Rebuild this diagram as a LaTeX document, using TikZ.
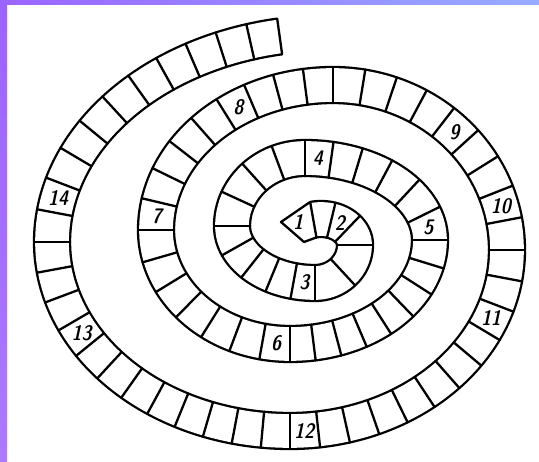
\documentclass[tikz,border=0pt]{standalone}
\definecolor{framepurple}{RGB}{155,100,255}
\definecolor{framelilac}{RGB}{172,122,255}
\definecolor{frameblue}{RGB}{150,172,255}
\tikzset{
  board/.style={line width=2.3pt, double=white, double distance=33.7pt},
  wall/.style={line width=2.3pt, line join=round, line cap=round},
  cellnum/.style={font=\fontsize{21}{23}\fontseries{sbc}\fontshape{sl}\sffamily, inner sep=0pt},
}
% quarter turns: number/centre x/centre y/radius x/radius y/from/to/cells
\def\quarters{1/321/245/34/26/255/360/3, 2/315/245/40/38/0/90/2,
  3/315/226/83/57/90/180/5, 4/305/226/73/68/180/270/4,
  5/305/240/125/82/270/360/6, 6/290/240/140/104/0/90/8,
  7/290/230/134/114/90/180/7, 8/333/230/177/145/180/270/9,
  9/333/250/174/165/270/360/9, 10/290/250/217/181/0/90/11,
  11/290/242/238/189/90/180/12, 12/330/242/278/209/180/257.9/11}
\begin{document}
\begin{tikzpicture}[x=1pt,y=-1pt]
\useasboundingbox (0,0) rectangle (539,462);
\fill[white] (0,0) rectangle (539,462);
% frame
\shade[top color=framepurple, bottom color=framelilac] (0,0) rectangle (7,462);
\shade[left color=framepurple, right color=frameblue] (0,0) rectangle (539,5);
% track
\foreach \q/\cx/\cy/\rx/\ry/\sa/\sb/\n in \quarters {
  \pgfmathsetmacro\qk{28.65*(\rx-\ry)/(\rx+\ry)}
  \draw[board] plot[domain=\sa:\sb, samples=40, smooth, variable=\s]
    ({\cx+\rx*cos(\s+\qk*sin(2*\s))}, {\cy+\ry*sin(\s+\qk*sin(2*\s))});
}
% cell walls
\foreach \q/\cx/\cy/\rx/\ry/\sa/\sb/\n in \quarters {
  \pgfmathsetmacro\qk{28.65*(\rx-\ry)/(\rx+\ry)}
  \foreach \j in {0,...,\n} {
    \pgfmathsetmacro\qs{\sa+(\sb-\sa)*\j/\n}
    \pgfmathsetmacro\qp{\qs+\qk*sin(2*\qs)}
    \pgfmathsetmacro\qa{atan2(\rx*sin(\qp),\ry*cos(\qp))}
    \draw[wall] ({\cx+\rx*cos(\qp)+18*cos(\qa)}, {\cy+\ry*sin(\qp)+18*sin(\qa)})
      -- ({\cx+\rx*cos(\qp)-18*cos(\qa)}, {\cy+\ry*sin(\qp)-18*sin(\qa)});
  }
  \foreach \j in {1,...,\n} {
    \pgfmathsetmacro\qs{\sa+(\sb-\sa)*(\j-0.5)/\n}
    \pgfmathsetmacro\qp{\qs+\qk*sin(2*\qs)}
    \coordinate (cell\q-\j) at ({\cx+\rx*cos(\qp)}, {\cy+\ry*sin(\qp)});
  }
}
% first cell
\coordinate (tip) at (281,222);
\coordinate (startout) at (310.1,202);
\coordinate (startin) at (316.5,237.4);
\draw[wall] (startout) -- (tip) -- (304,242) -- (startin);
% numbers
\node[cellnum] (n1) at (298,222) {1};
\node[cellnum] (n2) at (cell1-2) {2};
\node[cellnum] (n3) at (cell3-1) {3};
\node[cellnum] (n4) at (cell5-1) {4};
\node[cellnum] (n5) at (cell5-6) {5};
\node[cellnum] (n6) at (cell7-1) {6};
\node[cellnum] (n7) at (cell8-1) {7};
\node[cellnum] (n8) at (cell8-6) {8};
\node[cellnum] (n9) at (cell9-5) {9};
\node[cellnum] (n10) at (cell9-8) {10};
\node[cellnum] (n11) at (cell10-3) {11};
\node[cellnum] (n12) at (cell10-11) {12};
\node[cellnum] (n13) at (cell11-9) {13};
\node[cellnum] (n14) at (cell12-2) {14};
\end{tikzpicture}
\end{document}
